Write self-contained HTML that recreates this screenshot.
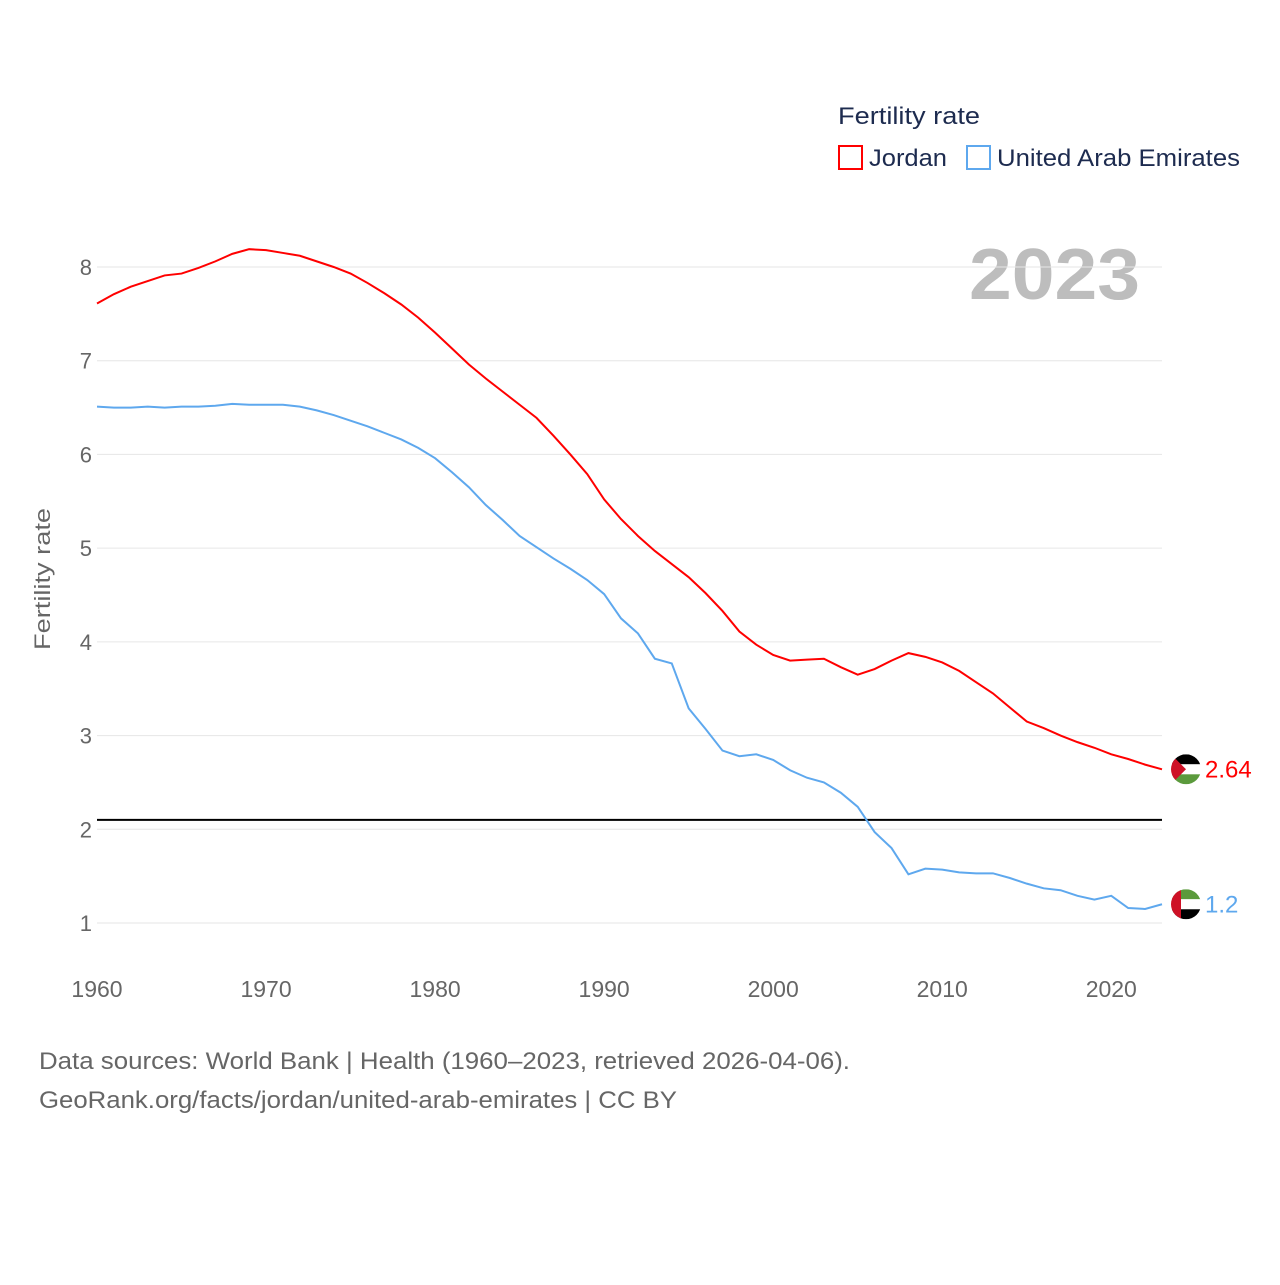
<!DOCTYPE html>
<html><head><meta charset="utf-8">
<style>
html,body{margin:0;padding:0;background:#fff;}
body{width:1280px;height:1280px;overflow:hidden;font-family:"Liberation Sans",sans-serif;}
</style></head>
<body>
<svg id="chart" width="1280" height="1280" viewBox="0 0 1280 1280" xmlns="http://www.w3.org/2000/svg" font-family="Liberation Sans, sans-serif">
<text x="838" y="124" font-size="24" fill="#1d2b4f" textLength="142" lengthAdjust="spacingAndGlyphs">Fertility rate</text>
<g>
<rect x="839" y="146" width="23" height="23" fill="none" stroke="#ff0000" stroke-width="2"/>
<text x="869" y="166" font-size="24" fill="#1d2b4f" textLength="78" lengthAdjust="spacingAndGlyphs">Jordan</text></g>
<g>
<rect x="967" y="146" width="23" height="23" fill="none" stroke="#5ea8ee" stroke-width="2"/>
<text x="997" y="166" font-size="24" fill="#1d2b4f" textLength="243" lengthAdjust="spacingAndGlyphs">United Arab Emirates</text></g>
<text x="969" y="299" font-size="72" font-weight="bold" fill="#bdbdbd" textLength="171" lengthAdjust="spacingAndGlyphs">2023</text>
<text transform="translate(50,579) rotate(-90)" font-size="22" fill="#666" text-anchor="middle" textLength="142" lengthAdjust="spacingAndGlyphs">Fertility rate</text>
<g id="grid"></g><g id="series"></g><g id="ends"></g>
<text x="39" y="1069" font-size="24" fill="#666" textLength="811" lengthAdjust="spacingAndGlyphs">Data sources: World Bank | Health (1960–2023, retrieved 2026-04-06).</text>
<text x="39" y="1108" font-size="24" fill="#666" textLength="638" lengthAdjust="spacingAndGlyphs">GeoRank.org/facts/jordan/united-arab-emirates | CC BY</text>
</svg>
<script>
const years=[];for(let y=1960;y<=2023;y++)years.push(y);
const jordan=[7.61,7.71,7.79,7.85,7.91,7.93,7.99,8.06,8.14,8.19,8.18,8.15,8.12,8.06,8.00,7.93,7.83,7.72,7.60,7.46,7.30,7.13,6.96,6.81,6.67,6.53,6.39,6.20,6.00,5.79,5.52,5.31,5.13,4.97,4.83,4.69,4.52,4.33,4.11,3.97,3.86,3.80,3.81,3.82,3.73,3.65,3.71,3.80,3.88,3.84,3.78,3.69,3.57,3.45,3.30,3.15,3.08,3.00,2.93,2.87,2.80,2.75,2.69,2.64];
const uae=[6.51,6.50,6.50,6.51,6.50,6.51,6.51,6.52,6.54,6.53,6.53,6.53,6.51,6.47,6.42,6.36,6.30,6.23,6.16,6.07,5.96,5.81,5.65,5.46,5.30,5.13,5.01,4.89,4.78,4.66,4.51,4.25,4.09,3.82,3.77,3.29,3.07,2.84,2.78,2.80,2.74,2.63,2.55,2.50,2.39,2.24,1.97,1.80,1.52,1.58,1.57,1.54,1.53,1.53,1.48,1.42,1.37,1.35,1.29,1.25,1.29,1.16,1.15,1.20];
const yTicks=[1,2,3,4,5,6,7,8];
const xTicks=[1960,1970,1980,1990,2000,2010,2020];
const replacement=[2.1];
const endLabels=["2.64","1.2"];
const NS="http://www.w3.org/2000/svg";
const X=y=>97+(y-1960)*(1162-97)/63;
const Y=v=>923-(v-1)*(923-267)/7;
function el(t,a,p){const e=document.createElementNS(NS,t);for(const k in a)e.setAttribute(k,a[k]);p.appendChild(e);return e;}
const grid=document.getElementById('grid');
yTicks.forEach(v=>{
 const l=el('line',{x1:97,x2:1162,y1:Y(v),y2:Y(v),stroke:'#e6e6e6','stroke-width':1},grid);
 
 
 const t=el('text',{x:92,y:Y(v)+8,'font-size':22,fill:'#666','text-anchor':'end'},grid);t.textContent=v;
 
 
});
xTicks.forEach(v=>{
 const t=el('text',{x:X(v),y:997,'font-size':23,fill:'#666','text-anchor':'middle'},grid);t.textContent=v;
 
 
});
const ref=el('line',{x1:97,x2:1162,y1:Y(replacement[0]),y2:Y(replacement[0]),stroke:'#000','stroke-width':2},grid);


const ser=document.getElementById('series');
[[uae,'#5ea8ee','uae-line'],[jordan,'#ff0000','jordan-line']].forEach(([d,c,n])=>{
 const p=el('polyline',{points:d.map((v,i)=>X(years[i])+','+Y(v)).join(' '),fill:'none',stroke:c,'stroke-width':2},ser);
 
 
});
const ends=document.getElementById('ends');
function flag(cx,cy,kind,name){
 const g=el('g',{},ends);
 
 
 const cid='c'+kind;
 const cp=el('clipPath',{id:cid},g);el('circle',{cx,cy,r:15},cp);
 const h=el('g',{'clip-path':'url(#'+cid+')'},g);
 if(kind==='jo'){
  el('rect',{x:cx-15,y:cy-15,width:30,height:10,fill:'#000'},h);
  el('rect',{x:cx-15,y:cy-5,width:30,height:10,fill:'#fff'},h);
  el('rect',{x:cx-15,y:cy+5,width:30,height:10,fill:'#5b9a3c'},h);
  el('polygon',{points:`${cx-15},${cy-15} ${cx},${cy} ${cx-15},${cy+15}`,fill:'#ce1126'},h);
 }else{
  el('rect',{x:cx-15,y:cy-15,width:30,height:10,fill:'#5b9a3c'},h);
  el('rect',{x:cx-15,y:cy-5,width:30,height:10,fill:'#fff'},h);
  el('rect',{x:cx-15,y:cy+5,width:30,height:10,fill:'#000'},h);
  el('rect',{x:cx-15,y:cy-15,width:10,height:30,fill:'#ce1126'},h);
 }
}
flag(1186,Y(jordan[63]),'jo','jordan-flag');
flag(1186,Y(uae[63]),'ae','uae-flag');
const t1=el('text',{x:1205,y:Y(jordan[63])+8,'font-size':24,fill:'#ff0000'},ends);t1.textContent=endLabels[0];


const t2=el('text',{x:1205,y:Y(uae[63])+8,'font-size':24,fill:'#5ea8ee'},ends);t2.textContent=endLabels[1];


</script>
</body></html>
